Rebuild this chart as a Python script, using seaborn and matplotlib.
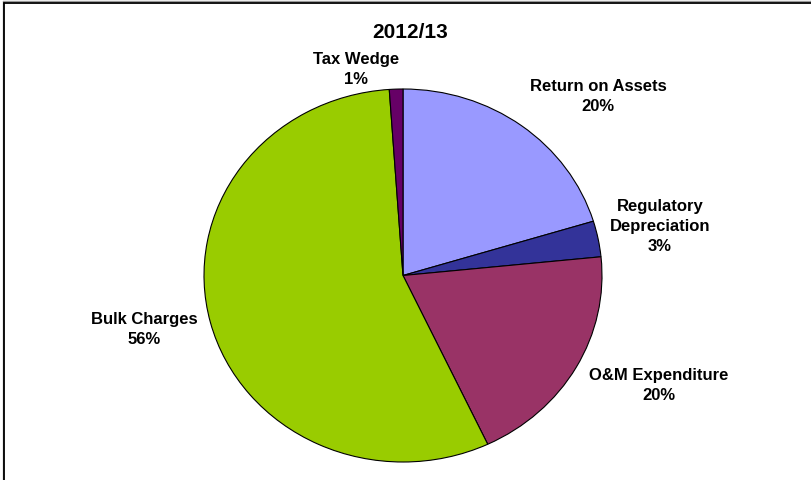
import matplotlib
matplotlib.use("Agg")
import matplotlib.pyplot as plt
import seaborn as sns
from matplotlib.lines import Line2D

sns.set_theme(style="white")
plt.rcParams["font.family"] = ["Liberation Sans", "DejaVu Sans"]

title = "2012/13"
categories = ["Return on Assets", "Regulatory\nDepreciation", "O&M Expenditure",
              "Bulk Charges", "Tax Wedge"]
shares = [20.3, 3.1, 19.6, 55.9, 1.1]
colors = ["#9999FF", "#333399", "#993366", "#99CC00", "#660066"]

W, H = 812, 481
fig = plt.figure(figsize=(W / 100, H / 100), dpi=100)
fig.patch.set_facecolor("white")

# pie area (pixel box of the ellipse)
left, right, top, bottom = 204, 602, 90, 463
ax = fig.add_axes([left / W, 1 - bottom / H, (right - left) / W, (bottom - top) / H])

wedges, texts = ax.pie(
    shares, colors=colors, startangle=90, counterclock=False,
    labels=[f"{c}\n{round(s)}%" for c, s in zip(categories, shares)],
    wedgeprops=dict(edgecolor="black", linewidth=0.8),
    textprops=dict(fontsize=12, fontweight="bold", color="black",
                   ha="center", va="center", multialignment="center"),
    frame=False,
)
ax.set_xlim(-1, 1)
ax.set_ylim(-1, 1)
ax.set_aspect("auto")

# label anchor points in pie coordinates
label_pos = [(0.980, 0.965), (1.291, 0.268), (1.286, -0.584), (-1.302, -0.284), (-0.236, 1.110)]
for t, (x, y) in zip(texts, label_pos):
    t.set_position((x, y))
    t.set_ha("center")
    t.set_va("center")
    t.set_clip_on(False)
    t.set_linespacing(1.45)

fig.text(410 / W, 1 - 32 / H, title, ha="center", va="center",
         fontsize=15, fontweight="bold", color="black")

# chart frame (top and left edges with a light shadow)
fig.add_artist(Line2D([3 / W, 3 / W], [0, 1 - 2 / H], transform=fig.transFigure,
                      color="#999999", linewidth=1))
fig.add_artist(Line2D([3 / W, 1], [1 - 2 / H, 1 - 2 / H], transform=fig.transFigure,
                      color="#999999", linewidth=1))
fig.add_artist(Line2D([4.5 / W, 4.5 / W], [0, 1 - 3.5 / H], transform=fig.transFigure,
                      color="black", linewidth=1.3))
fig.add_artist(Line2D([4.5 / W, 1], [1 - 3.5 / H, 1 - 3.5 / H], transform=fig.transFigure,
                      color="black", linewidth=1.3))

fig.savefig("out.png", dpi=100, facecolor="white")
